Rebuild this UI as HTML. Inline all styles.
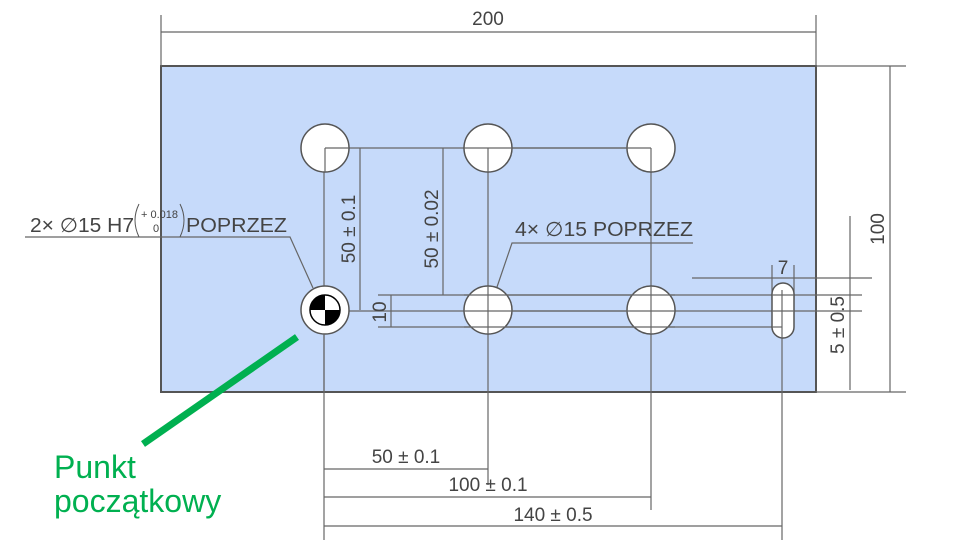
<!DOCTYPE html>
<html><head><meta charset="utf-8"><style>
html,body{margin:0;padding:0;background:#fff;width:960px;height:552px;overflow:hidden}
svg text{font-family:"Liberation Sans",sans-serif;fill:#444}
</style></head><body>
<svg width="960" height="552" viewBox="0 0 960 552" xmlns="http://www.w3.org/2000/svg">
<rect x="161" y="66" width="655" height="326" fill="#c6dafa" stroke="#555" stroke-width="2"/>
<g stroke="#666" stroke-width="1.2" fill="none">
<line x1="161" y1="15" x2="161" y2="66"/><line x1="816" y1="15" x2="816" y2="66"/>
<line x1="161" y1="32" x2="816" y2="32"/>
<line x1="816" y1="66" x2="906" y2="66"/><line x1="816" y1="392" x2="906" y2="392"/>
<line x1="890" y1="66" x2="890" y2="392"/>
<line x1="850" y1="216" x2="850" y2="390"/>
<line x1="378" y1="295" x2="862" y2="295"/>
<line x1="325" y1="311" x2="862" y2="311"/>
<line x1="378" y1="327" x2="782" y2="327"/>
<line x1="692" y1="278" x2="872" y2="278"/>
<line x1="772" y1="265" x2="772" y2="300"/><line x1="794" y1="265" x2="794" y2="300"/>
<line x1="391" y1="295" x2="391" y2="327"/>
<line x1="325" y1="148" x2="651" y2="148"/>
<line x1="360" y1="148" x2="360" y2="310"/>
<line x1="443" y1="148" x2="443" y2="295"/>
<line x1="324" y1="148" x2="324" y2="540"/>
<line x1="488" y1="148" x2="488" y2="485"/>
<line x1="651" y1="148" x2="651" y2="510"/>
<line x1="782" y1="290" x2="782" y2="540"/>
<line x1="324" y1="469" x2="488" y2="469"/>
<line x1="324" y1="497" x2="651" y2="497"/>
<line x1="324" y1="526" x2="782" y2="526"/>
<polyline points="25,237 290,237 313,288"/>
<polyline points="693,243 512,243 497,287"/>
</g>
<g fill="#fff" stroke="#555" stroke-width="1.5">
<circle cx="325" cy="148" r="24"/><circle cx="488" cy="148" r="24"/><circle cx="651" cy="148" r="24"/>
<circle cx="325" cy="310" r="24"/><circle cx="488" cy="310" r="24"/><circle cx="651" cy="310" r="24"/>
<rect x="772" y="283" width="22" height="55" rx="11"/>
</g>
<g stroke="#666" stroke-width="1.2">
<line x1="488" y1="148" x2="488" y2="172"/><line x1="651" y1="148" x2="651" y2="172"/>
<line x1="464" y1="148" x2="651" y2="148"/><line x1="325" y1="148" x2="349" y2="148"/><line x1="325" y1="148" x2="325" y2="172"/>
<line x1="488" y1="286" x2="488" y2="334"/><line x1="651" y1="286" x2="651" y2="334"/>
<line x1="464" y1="295" x2="675" y2="295"/><line x1="464" y1="311" x2="675" y2="311"/><line x1="464" y1="327" x2="675" y2="327"/>
<line x1="782" y1="290" x2="782" y2="338"/><line x1="772" y1="295" x2="794" y2="295"/><line x1="772" y1="311" x2="794" y2="311"/><line x1="772" y1="327" x2="782" y2="327"/>
</g>
<circle cx="325" cy="310" r="15" fill="#fff" stroke="#000" stroke-width="1.5"/>
<path d="M325,310 L310,310 A15,15 0 0 1 325,295 Z" fill="#000"/>
<path d="M325,310 L340,310 A15,15 0 0 1 325,325 Z" fill="#000"/>
<line x1="324" y1="334" x2="324" y2="392" stroke="#666" stroke-width="1.2"/>
<text x="488" y="25" font-size="19" text-anchor="middle">200</text>
<text transform="translate(884,229) rotate(-90)" font-size="19" text-anchor="middle">100</text>
<text transform="translate(844,325) rotate(-90)" font-size="19" text-anchor="middle">5 ± 0.5</text>
<text x="783" y="274" font-size="19" text-anchor="middle">7</text>
<text transform="translate(355,229) rotate(-90)" font-size="19" text-anchor="middle">50 ± 0.1</text>
<text transform="translate(438,229) rotate(-90)" font-size="19" text-anchor="middle">50 ± 0.02</text>
<text transform="translate(386,312) rotate(-90)" font-size="19" text-anchor="middle">10</text>
<text x="406" y="463" font-size="19" text-anchor="middle">50 ± 0.1</text>
<text x="488" y="491" font-size="19" text-anchor="middle">100 ± 0.1</text>
<text x="553" y="521" font-size="19" text-anchor="middle">140 ± 0.5</text>
<text x="515" y="236" font-size="20" textLength="178" lengthAdjust="spacingAndGlyphs">4× ∅15 POPRZEZ</text>
<text x="30" y="232" font-size="20" textLength="104" lengthAdjust="spacingAndGlyphs">2× ∅15 H7</text>
<text x="141" y="218" font-size="11">+ 0.018</text>
<text x="153" y="232" font-size="11">0</text>
<path d="M139,204 Q131,220 139,237" stroke="#555" fill="none"/>
<path d="M180,204 Q188,220 180,237" stroke="#555" fill="none"/>
<text x="186" y="232" font-size="20" textLength="101" lengthAdjust="spacingAndGlyphs">POPRZEZ</text>
<line x1="297" y1="337" x2="143" y2="444" stroke="#00b050" stroke-width="7"/>
<text x="54" y="478" font-size="32" style="fill:#00b050">Punkt</text>
<text x="54" y="512" font-size="32" style="fill:#00b050">początkowy</text>
</svg>
</body></html>
